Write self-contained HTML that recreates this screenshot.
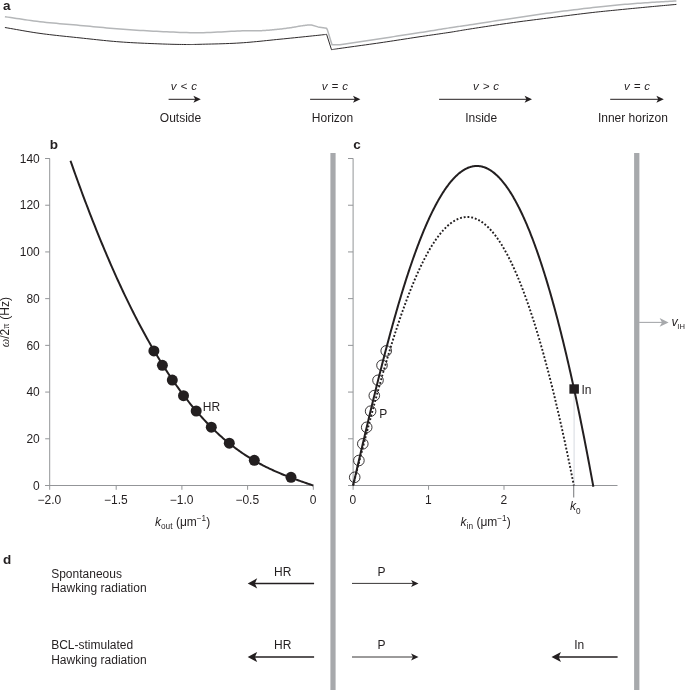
<!DOCTYPE html>
<html><head><meta charset="utf-8"><title>Figure</title>
<style>
html,body{margin:0;padding:0;background:#fff;}
svg{display:block;}
text{font-family:"Liberation Sans",sans-serif;fill:#231f20;}
.t{font-size:12px;}
.tk{font-size:12px;}
.i{font-style:italic;}
.pl{font-size:13.5px;font-weight:bold;}
.sub{font-size:8.3px;}
</style></head><body>
<svg width="685" height="690" viewBox="0 0 685 690">
<rect width="685" height="690" fill="#fff"/>
<defs>
<path id="ahS" d="M0,0 L-7.4,-3.5 L-5.6,0 L-7.4,3.5 Z"/>
<path id="ahB" d="M0,0 L-9.5,-5.1 L-7.2,0 L-9.5,5.1 Z"/>
</defs>

<path d="M4.90,16.70 L7.81,17.12 L10.69,17.55 L13.56,17.98 L16.42,18.41 L19.28,18.85 L22.14,19.28 L25.03,19.71 L27.94,20.13 L30.88,20.54 L33.87,20.94 L36.90,21.33 L40.00,21.70 L43.16,22.05 L46.38,22.39 L49.66,22.72 L52.97,23.03 L56.32,23.34 L59.69,23.64 L63.09,23.93 L66.49,24.22 L69.89,24.51 L73.28,24.80 L76.65,25.10 L80.00,25.40 L83.33,25.71 L86.67,26.02 L90.00,26.33 L93.33,26.65 L96.67,26.96 L100.00,27.27 L103.33,27.58 L106.67,27.89 L110.00,28.18 L113.33,28.46 L116.67,28.74 L120.00,29.00 L123.33,29.25 L126.67,29.49 L130.00,29.73 L133.33,29.96 L136.67,30.18 L140.00,30.40 L143.33,30.60 L146.67,30.80 L150.00,30.99 L153.33,31.17 L156.67,31.34 L160.00,31.50 L163.33,31.66 L166.67,31.82 L170.00,31.97 L173.33,32.12 L176.67,32.27 L180.00,32.40 L183.33,32.51 L186.67,32.61 L190.00,32.68 L193.33,32.74 L196.67,32.76 L200.00,32.75 L203.40,32.70 L206.90,32.60 L210.47,32.47 L214.07,32.30 L217.68,32.12 L221.25,31.92 L224.75,31.71 L228.15,31.51 L231.41,31.32 L234.49,31.15 L237.37,31.01 L240.00,30.90 L242.38,30.83 L244.55,30.78 L246.52,30.76 L248.33,30.74 L250.00,30.75 L251.56,30.75 L253.03,30.76 L254.44,30.77 L255.82,30.77 L257.19,30.77 L258.57,30.74 L260.00,30.70 L261.43,30.64 L262.79,30.58 L264.10,30.50 L265.37,30.43 L266.60,30.34 L267.81,30.25 L269.00,30.15 L270.19,30.05 L271.37,29.95 L272.56,29.83 L273.77,29.72 L275.00,29.60 L276.27,29.47 L277.56,29.34 L278.87,29.20 L280.19,29.05 L281.50,28.89 L282.81,28.74 L284.10,28.58 L285.37,28.42 L286.60,28.26 L287.79,28.10 L288.93,27.95 L290.00,27.80 L291.01,27.65 L291.98,27.50 L292.90,27.36 L293.78,27.21 L294.62,27.06 L295.44,26.91 L296.23,26.76 L297.00,26.62 L297.76,26.48 L298.51,26.35 L299.25,26.22 L300.00,26.10 L300.74,25.98 L301.45,25.88 L302.14,25.77 L302.81,25.68 L303.48,25.58 L304.12,25.49 L304.77,25.40 L305.41,25.31 L306.05,25.22 L306.69,25.14 L307.34,25.04 L308.00,24.95 L311.5,25.0 L318,26.9 L326.6,28.3 L327.4,29.9 L332,44.8 L340,44.8 L340.00,44.80 L343.33,44.29 L346.67,43.78 L350.00,43.27 L353.33,42.77 L356.67,42.26 L360.00,41.75 L363.33,41.24 L366.67,40.73 L370.00,40.22 L373.33,39.72 L376.67,39.21 L380.00,38.70 L383.37,38.19 L386.78,37.67 L390.23,37.14 L393.70,36.62 L397.17,36.09 L400.62,35.57 L404.04,35.05 L407.41,34.54 L410.70,34.03 L413.91,33.54 L417.02,33.06 L420.00,32.60 L422.88,32.15 L425.69,31.70 L428.44,31.27 L431.11,30.84 L433.72,30.42 L436.25,30.01 L438.72,29.61 L441.11,29.22 L443.44,28.84 L445.69,28.48 L447.88,28.13 L450.00,27.80 L451.95,27.50 L453.68,27.23 L455.23,27.00 L456.67,26.78 L458.03,26.58 L459.38,26.38 L460.76,26.18 L462.22,25.96 L463.83,25.73 L465.62,25.46 L467.66,25.15 L470.00,24.80 L472.63,24.40 L475.51,23.96 L478.59,23.49 L481.85,22.99 L485.25,22.46 L488.75,21.93 L492.32,21.38 L495.93,20.83 L499.53,20.28 L503.10,19.74 L506.60,19.21 L510.00,18.70 L513.33,18.20 L516.67,17.71 L520.00,17.21 L523.33,16.71 L526.67,16.22 L530.00,15.73 L533.33,15.24 L536.67,14.76 L540.00,14.29 L543.33,13.82 L546.67,13.35 L550.00,12.90 L553.37,12.45 L556.78,12.00 L560.23,11.55 L563.70,11.10 L567.17,10.66 L570.62,10.23 L574.04,9.81 L577.41,9.40 L580.70,9.00 L583.91,8.61 L587.02,8.25 L590.00,7.90 L592.85,7.57 L595.58,7.26 L598.20,6.97 L600.74,6.70 L603.21,6.43 L605.62,6.18 L608.01,5.94 L610.37,5.70 L612.73,5.47 L615.12,5.25 L617.53,5.02 L620.00,4.80 L622.51,4.58 L625.04,4.36 L627.58,4.15 L630.13,3.95 L632.68,3.75 L635.23,3.56 L637.76,3.37 L640.27,3.19 L642.75,3.01 L645.21,2.83 L647.63,2.66 L650.00,2.50 L652.33,2.34 L654.61,2.19 L656.85,2.05 L659.07,1.91 L661.26,1.78 L663.43,1.66 L665.58,1.53 L667.73,1.41 L669.88,1.28 L672.04,1.16 L674.21,1.03 L676.40,0.90" fill="none" stroke="#b5b7b9" stroke-width="1.5" stroke-linejoin="round"/>
<path d="M4.90,27.50 L7.81,28.00 L10.69,28.50 L13.56,29.01 L16.42,29.52 L19.28,30.03 L22.14,30.54 L25.03,31.04 L27.94,31.54 L30.88,32.02 L33.87,32.50 L36.90,32.96 L40.00,33.40 L43.16,33.83 L46.38,34.24 L49.66,34.64 L52.97,35.02 L56.32,35.40 L59.69,35.77 L63.09,36.13 L66.49,36.49 L69.89,36.84 L73.28,37.20 L76.65,37.55 L80.00,37.90 L83.33,38.26 L86.67,38.62 L90.00,38.98 L93.33,39.34 L96.67,39.70 L100.00,40.06 L103.33,40.40 L106.67,40.73 L110.00,41.05 L113.33,41.35 L116.67,41.64 L120.00,41.90 L123.38,42.14 L126.84,42.37 L130.35,42.57 L133.89,42.77 L137.43,42.95 L140.94,43.11 L144.40,43.27 L147.78,43.41 L151.05,43.55 L154.20,43.67 L157.19,43.79 L160.00,43.90 L162.64,44.00 L165.15,44.09 L167.54,44.17 L169.81,44.23 L171.99,44.29 L174.06,44.34 L176.05,44.38 L177.96,44.41 L179.80,44.44 L181.59,44.46 L183.31,44.48 L185.00,44.50 L186.52,44.52 L187.79,44.53 L188.87,44.53 L189.81,44.54 L190.69,44.53 L191.56,44.52 L192.48,44.51 L193.52,44.48 L194.73,44.45 L196.17,44.41 L197.91,44.36 L200.00,44.30 L202.46,44.24 L205.22,44.17 L208.24,44.10 L211.48,44.02 L214.89,43.94 L218.44,43.85 L222.07,43.74 L225.74,43.62 L229.41,43.48 L233.04,43.33 L236.59,43.15 L240.00,42.95 L243.33,42.72 L246.67,42.47 L250.00,42.19 L253.33,41.89 L256.67,41.58 L260.00,41.25 L263.33,40.91 L266.67,40.56 L270.00,40.22 L273.33,39.87 L276.67,39.53 L280.00,39.20 L283.44,38.86 L287.05,38.50 L290.78,38.12 L294.57,37.74 L298.36,37.35 L302.09,36.97 L305.70,36.59 L309.14,36.24 L312.35,35.90 L315.27,35.60 L317.84,35.33 L320.00,35.10 L321.72,34.92 L323.03,34.78 L324.00,34.67 L324.67,34.59 L325.12,34.53 L325.39,34.49 L325.54,34.47 L325.64,34.44 L325.73,34.42 L325.89,34.40 L326.16,34.36 L326.60,34.30 L331.5,49.7 L331.50,49.70 L332.11,49.61 L332.55,49.53 L332.89,49.48 L333.17,49.43 L333.45,49.38 L333.78,49.32 L334.23,49.25 L334.83,49.15 L335.66,49.03 L336.76,48.87 L338.19,48.66 L340.00,48.40 L342.23,48.09 L344.84,47.72 L347.79,47.31 L351.00,46.87 L354.43,46.40 L358.03,45.90 L361.74,45.39 L365.50,44.86 L369.26,44.34 L372.97,43.81 L376.57,43.30 L380.00,42.80 L383.37,42.30 L386.78,41.79 L390.23,41.27 L393.70,40.74 L397.17,40.21 L400.62,39.67 L404.04,39.15 L407.41,38.63 L410.70,38.12 L413.91,37.62 L417.02,37.15 L420.00,36.70 L422.88,36.27 L425.69,35.86 L428.44,35.45 L431.11,35.07 L433.72,34.69 L436.25,34.32 L438.72,33.97 L441.11,33.62 L443.44,33.28 L445.69,32.95 L447.88,32.62 L450.00,32.30 L451.95,32.00 L453.68,31.72 L455.23,31.46 L456.67,31.22 L458.03,30.98 L459.38,30.75 L460.76,30.51 L462.22,30.26 L463.83,29.99 L465.62,29.69 L467.66,29.37 L470.00,29.00 L472.63,28.59 L475.51,28.15 L478.59,27.67 L481.85,27.17 L485.25,26.65 L488.75,26.12 L492.32,25.58 L495.93,25.04 L499.53,24.51 L503.10,23.98 L506.60,23.48 L510.00,23.00 L513.33,22.54 L516.67,22.08 L520.00,21.64 L523.33,21.20 L526.67,20.77 L530.00,20.34 L533.33,19.91 L536.67,19.49 L540.00,19.07 L543.33,18.65 L546.67,18.22 L550.00,17.80 L553.37,17.37 L556.78,16.93 L560.23,16.49 L563.70,16.05 L567.17,15.61 L570.62,15.17 L574.04,14.74 L577.41,14.32 L580.70,13.91 L583.91,13.52 L587.02,13.15 L590.00,12.80 L592.85,12.47 L595.58,12.17 L598.20,11.89 L600.74,11.62 L603.21,11.36 L605.62,11.12 L608.01,10.88 L610.37,10.65 L612.73,10.42 L615.12,10.18 L617.53,9.95 L620.00,9.70 L622.51,9.45 L625.04,9.20 L627.58,8.95 L630.13,8.70 L632.68,8.45 L635.23,8.21 L637.76,7.96 L640.27,7.72 L642.75,7.49 L645.21,7.25 L647.63,7.02 L650.00,6.80 L652.33,6.58 L654.61,6.37 L656.85,6.16 L659.07,5.96 L661.26,5.76 L663.43,5.57 L665.58,5.37 L667.73,5.18 L669.88,4.99 L672.04,4.79 L674.21,4.60 L676.40,4.40" fill="none" stroke="#231f20" stroke-width="0.95" stroke-linejoin="miter"/>
<text class="pl" x="3" y="10.2">a</text>
<line x1="168.6" y1="99.3" x2="197.8" y2="99.3" stroke="#231f20" stroke-width="1.0"/>
<use href="#ahS" transform="translate(200.8,99.3)" fill="#231f20"/>
<text class="t i" x="183.8" y="89.8" text-anchor="middle" word-spacing="0.8" style="font-size:11.5px">v &lt; c</text>
<text class="t" x="180.5" y="121.6" text-anchor="middle">Outside</text>
<line x1="310.1" y1="99.3" x2="357.4" y2="99.3" stroke="#231f20" stroke-width="1.0"/>
<use href="#ahS" transform="translate(360.4,99.3)" fill="#231f20"/>
<text class="t i" x="334.9" y="89.8" text-anchor="middle" word-spacing="0.8" style="font-size:11.5px">v = c</text>
<text class="t" x="332.5" y="121.6" text-anchor="middle">Horizon</text>
<line x1="439.1" y1="99.3" x2="529" y2="99.3" stroke="#231f20" stroke-width="1.0"/>
<use href="#ahS" transform="translate(532,99.3)" fill="#231f20"/>
<text class="t i" x="486" y="89.8" text-anchor="middle" word-spacing="0.8" style="font-size:11.5px">v &gt; c</text>
<text class="t" x="481.2" y="121.6" text-anchor="middle">Inside</text>
<line x1="610.2" y1="99.3" x2="660.8" y2="99.3" stroke="#231f20" stroke-width="1.0"/>
<use href="#ahS" transform="translate(663.8,99.3)" fill="#231f20"/>
<text class="t i" x="637" y="89.8" text-anchor="middle" word-spacing="0.8" style="font-size:11.5px">v = c</text>
<text class="t" x="632.9" y="121.6" text-anchor="middle">Inner horizon</text>
<rect x="330.4" y="153" width="5.2" height="537" fill="#a7a9ac"/>
<rect x="634.1" y="153" width="5.3" height="537" fill="#a7a9ac"/>
<line x1="639" y1="322.4" x2="664" y2="322.4" stroke="#a7a9ac" stroke-width="1.1"/>
<path d="M668.6,322.4 L659.6,318 L662,322.4 L659.6,326.8 Z" fill="#a7a9ac"/>
<text class="t i" x="671.6" y="325.7" style="font-size:12.5px">v<tspan class="sub" font-style="normal" dy="3.4" dx="-0.5" style="font-size:7.6px">IH</tspan></text>
<path d="M45.2,158.5 H49.7 V485.5 M45.2,485.5 H313.3" fill="none" stroke="#939598" stroke-width="1"/>
<line x1="45.2" x2="49.7" y1="485.50" y2="485.50" stroke="#939598" stroke-width="1"/>
<text class="tk" x="39.8" y="489.70" text-anchor="end">0</text>
<line x1="45.2" x2="49.7" y1="438.79" y2="438.79" stroke="#939598" stroke-width="1"/>
<text class="tk" x="39.8" y="442.99" text-anchor="end">20</text>
<line x1="45.2" x2="49.7" y1="392.07" y2="392.07" stroke="#939598" stroke-width="1"/>
<text class="tk" x="39.8" y="396.27" text-anchor="end">40</text>
<line x1="45.2" x2="49.7" y1="345.36" y2="345.36" stroke="#939598" stroke-width="1"/>
<text class="tk" x="39.8" y="349.56" text-anchor="end">60</text>
<line x1="45.2" x2="49.7" y1="298.64" y2="298.64" stroke="#939598" stroke-width="1"/>
<text class="tk" x="39.8" y="302.84" text-anchor="end">80</text>
<line x1="45.2" x2="49.7" y1="251.93" y2="251.93" stroke="#939598" stroke-width="1"/>
<text class="tk" x="39.8" y="256.13" text-anchor="end">100</text>
<line x1="45.2" x2="49.7" y1="205.22" y2="205.22" stroke="#939598" stroke-width="1"/>
<text class="tk" x="39.8" y="209.42" text-anchor="end">120</text>
<line x1="45.2" x2="49.7" y1="158.50" y2="158.50" stroke="#939598" stroke-width="1"/>
<text class="tk" x="39.8" y="162.70" text-anchor="end">140</text>
<line x1="49.70" x2="49.70" y1="485.5" y2="489.8" stroke="#939598" stroke-width="1"/>
<text class="tk" x="49.40" y="504.4" text-anchor="middle">−2.0</text>
<line x1="116.20" x2="116.20" y1="485.5" y2="489.8" stroke="#939598" stroke-width="1"/>
<text class="tk" x="115.90" y="504.4" text-anchor="middle">−1.5</text>
<line x1="181.90" x2="181.90" y1="485.5" y2="489.8" stroke="#939598" stroke-width="1"/>
<text class="tk" x="181.60" y="504.4" text-anchor="middle">−1.0</text>
<line x1="247.60" x2="247.60" y1="485.5" y2="489.8" stroke="#939598" stroke-width="1"/>
<text class="tk" x="247.30" y="504.4" text-anchor="middle">−0.5</text>
<line x1="313.30" x2="313.30" y1="485.5" y2="489.8" stroke="#939598" stroke-width="1"/>
<text class="tk" x="313.00" y="504.4" text-anchor="middle">0</text>
<text class="pl" x="49.8" y="149">b</text>
<path d="M70.47,160.72 L71.69,164.19 L72.91,167.65 L74.13,171.08 L75.35,174.49 L76.57,177.89 L77.79,181.26 L79.01,184.61 L80.23,187.93 L81.45,191.24 L82.68,194.53 L83.90,197.79 L85.12,201.04 L86.34,204.26 L87.56,207.46 L88.78,210.64 L90.00,213.80 L91.22,216.94 L92.44,220.06 L93.66,223.16 L94.88,226.23 L96.10,229.29 L97.32,232.32 L98.54,235.34 L99.76,238.33 L100.98,241.30 L102.20,244.25 L103.42,247.18 L104.64,250.09 L105.86,252.98 L107.08,255.85 L108.30,258.69 L109.52,261.52 L110.74,264.32 L111.96,267.11 L113.18,269.87 L114.40,272.62 L115.62,275.34 L116.84,278.04 L118.06,280.72 L119.28,283.38 L120.50,286.02 L121.72,288.64 L122.94,291.24 L124.16,293.82 L125.38,296.38 L126.60,298.92 L127.82,301.43 L129.04,303.93 L130.26,306.41 L131.48,308.86 L132.70,311.30 L133.93,313.71 L135.15,316.11 L136.37,318.48 L137.59,320.84 L138.81,323.17 L140.03,325.49 L141.25,327.78 L142.47,330.06 L143.69,332.31 L144.91,334.55 L146.13,336.76 L147.35,338.95 L148.57,341.13 L149.79,343.28 L151.01,345.42 L152.23,347.53 L153.45,349.63 L154.67,351.70 L155.89,353.76 L157.11,355.80 L158.33,357.81 L159.55,359.81 L160.77,361.79 L161.99,363.75 L163.21,365.68 L164.43,367.60 L165.65,369.50 L166.87,371.38 L168.09,373.25 L169.31,375.09 L170.53,376.91 L171.75,378.71 L172.97,380.50 L174.19,382.27 L175.41,384.01 L176.63,385.74 L177.85,387.45 L179.07,389.14 L180.29,390.81 L181.51,392.47 L182.73,394.10 L183.95,395.72 L185.18,397.32 L186.40,398.90 L187.62,400.46 L188.84,402.00 L190.06,403.52 L191.28,405.03 L192.50,406.52 L193.72,407.99 L194.94,409.44 L196.16,410.88 L197.38,412.30 L198.60,413.70 L199.82,415.08 L201.04,416.44 L202.26,417.79 L203.48,419.12 L204.70,420.44 L205.92,421.73 L207.14,423.01 L208.36,424.27 L209.58,425.52 L210.80,426.75 L212.02,427.96 L213.24,429.15 L214.46,430.33 L215.68,431.50 L216.90,432.64 L218.12,433.77 L219.34,434.89 L220.56,435.99 L221.78,437.07 L223.00,438.14 L224.22,439.19 L225.44,440.22 L226.66,441.25 L227.88,442.25 L229.10,443.24 L230.32,444.22 L231.54,445.18 L232.76,446.13 L233.98,447.06 L235.20,447.98 L236.43,448.88 L237.65,449.77 L238.87,450.65 L240.09,451.51 L241.31,452.36 L242.53,453.20 L243.75,454.02 L244.97,454.83 L246.19,455.63 L247.41,456.41 L248.63,457.18 L249.85,457.94 L251.07,458.69 L252.29,459.42 L253.51,460.15 L254.73,460.86 L255.95,461.56 L257.17,462.25 L258.39,462.92 L259.61,463.59 L260.83,464.25 L262.05,464.89 L263.27,465.53 L264.49,466.15 L265.71,466.77 L266.93,467.37 L268.15,467.97 L269.37,468.55 L270.59,469.13 L271.81,469.70 L273.03,470.26 L274.25,470.81 L275.47,471.36 L276.69,471.89 L277.91,472.42 L279.13,472.94 L280.35,473.45 L281.57,473.96 L282.79,474.46 L284.01,474.95 L285.23,475.44 L286.45,475.92 L287.68,476.40 L288.90,476.87 L290.12,477.33 L291.34,477.79 L292.56,478.25 L293.78,478.70 L295.00,479.14 L296.22,479.58 L297.44,480.02 L298.66,480.46 L299.88,480.89 L301.10,481.32 L302.32,481.74 L303.54,482.17 L304.76,482.59 L305.98,483.01 L307.20,483.43 L308.42,483.84 L309.64,484.26 L310.86,484.67 L312.08,485.09 L313.30,485.50" fill="none" stroke="#231f20" stroke-width="2"/>
<circle cx="153.9" cy="350.9" r="5.5" fill="#231f20"/>
<circle cx="162.4" cy="365.3" r="5.5" fill="#231f20"/>
<circle cx="172.3" cy="380.1" r="5.5" fill="#231f20"/>
<circle cx="183.5" cy="395.7" r="5.5" fill="#231f20"/>
<circle cx="196.2" cy="411" r="5.5" fill="#231f20"/>
<circle cx="211.3" cy="427.2" r="5.5" fill="#231f20"/>
<circle cx="229.3" cy="443.2" r="5.5" fill="#231f20"/>
<circle cx="254.3" cy="460.3" r="5.5" fill="#231f20"/>
<circle cx="291" cy="477.3" r="5.5" fill="#231f20"/>
<text class="t" x="202.8" y="410.8">HR</text>
<text class="t" transform="translate(9.1,347.3) rotate(-90)" text-anchor="start"><tspan font-family="Liberation Serif,serif" font-style="italic" style="font-size:12px">ω</tspan>/2<tspan font-family="Liberation Serif,serif" style="font-size:9.5px" dx="0.3">π</tspan><tspan dx="0.6"> (Hz)</tspan></text>
<text class="t" x="155" y="525.9"><tspan class="i">k</tspan><tspan class="sub" dy="2.6">out</tspan><tspan dy="-2.6"> (μm</tspan><tspan class="sub" dy="-5.4" style="font-size:8.2px">−1</tspan><tspan dy="5.4">)</tspan></text>
<path d="M348,158.5 H353.1 V485.5 H617.5" fill="none" stroke="#939598" stroke-width="1"/>
<line x1="348" x2="353.1" y1="485.50" y2="485.50" stroke="#939598" stroke-width="1"/>
<line x1="348" x2="353.1" y1="438.79" y2="438.79" stroke="#939598" stroke-width="1"/>
<line x1="348" x2="353.1" y1="392.07" y2="392.07" stroke="#939598" stroke-width="1"/>
<line x1="348" x2="353.1" y1="345.36" y2="345.36" stroke="#939598" stroke-width="1"/>
<line x1="348" x2="353.1" y1="298.64" y2="298.64" stroke="#939598" stroke-width="1"/>
<line x1="348" x2="353.1" y1="251.93" y2="251.93" stroke="#939598" stroke-width="1"/>
<line x1="348" x2="353.1" y1="205.22" y2="205.22" stroke="#939598" stroke-width="1"/>
<line x1="348" x2="353.1" y1="158.50" y2="158.50" stroke="#939598" stroke-width="1"/>
<line x1="353.10" x2="353.10" y1="485.5" y2="489.8" stroke="#939598" stroke-width="1"/>
<text class="tk" x="352.90" y="504.2" text-anchor="middle">0</text>
<line x1="428.55" x2="428.55" y1="485.5" y2="489.8" stroke="#939598" stroke-width="1"/>
<text class="tk" x="428.35" y="504.2" text-anchor="middle">1</text>
<line x1="504.00" x2="504.00" y1="485.5" y2="489.8" stroke="#939598" stroke-width="1"/>
<text class="tk" x="503.80" y="504.2" text-anchor="middle">2</text>
<line x1="573.7" x2="573.7" y1="485.5" y2="497.6" stroke="#808285" stroke-width="1.1"/>
<line x1="574.1" x2="574.1" y1="392" y2="485" stroke="#d3d6de" stroke-width="0.9"/>
<text class="pl" x="353.3" y="149.3">c</text>
<text class="t" x="570" y="510.4"><tspan class="i">k</tspan><tspan class="sub" dy="3.5" style="font-size:8.2px">0</tspan></text>
<text class="t" x="460.6" y="525.9"><tspan class="i">k</tspan><tspan class="sub" dy="2.6">in</tspan><tspan dy="-2.6"> (μm</tspan><tspan class="sub" dy="-5.4" style="font-size:8.2px">−1</tspan><tspan dy="5.4">)</tspan></text>
<path d="M353.10,485.50 L353.70,482.90 L354.30,480.30 L354.91,477.71 L355.51,475.11 L356.11,472.51 L356.71,469.92 L357.31,467.32 L357.92,464.73 L358.52,462.14 L359.12,459.55 L359.72,456.97 L360.33,454.38 L360.93,451.80 L361.53,449.23 L362.13,446.65 L362.73,444.08 L363.34,441.51 L363.94,438.95 L364.54,436.39 L365.14,433.83 L365.74,431.28 L366.35,428.73 L366.95,426.19 L367.55,423.65 L368.15,421.12 L368.76,418.60 L369.36,416.07 L369.96,413.56 L370.56,411.05 L371.16,408.55 L371.77,406.05 L372.37,403.56 L372.97,401.08 L373.57,398.60 L374.17,396.13 L374.78,393.67 L375.38,391.22 L375.98,388.77 L376.58,386.33 L377.19,383.90 L377.79,381.48 L378.39,379.07 L378.99,376.66 L379.59,374.27 L380.20,371.88 L380.80,369.50 L381.40,367.13 L382.00,364.77 L382.60,362.42 L383.21,360.08 L383.81,357.75 L384.41,355.43 L385.01,353.12 L385.62,350.82 L386.22,348.53 L386.82,346.25 L387.42,343.98 L388.02,341.72 L388.63,339.47 L389.23,337.24 L389.83,335.01 L390.43,332.80 L391.03,330.59 L391.64,328.40 L392.24,326.22 L392.84,324.06 L393.44,321.90 L394.05,319.76 L394.65,317.63 L395.25,315.51 L395.85,313.40 L396.45,311.30 L397.06,309.22 L397.66,307.15 L398.26,305.09 L398.86,303.05 L399.46,301.02 L400.07,299.00 L400.67,297.00 L401.27,295.00 L401.87,293.02 L402.48,291.06 L403.08,289.11 L403.68,287.17 L404.28,285.24 L404.88,283.33 L405.49,281.43 L406.09,279.55 L406.69,277.68 L407.29,275.82 L407.89,273.98 L408.50,272.15 L409.10,270.34 L409.70,268.54 L410.30,266.75 L410.91,264.98 L411.51,263.22 L412.11,261.48 L412.71,259.75 L413.31,258.04 L413.92,256.34 L414.52,254.65 L415.12,252.98 L415.72,251.33 L416.32,249.69 L416.93,248.06 L417.53,246.45 L418.13,244.86 L418.73,243.28 L419.33,241.71 L419.94,240.16 L420.54,238.63 L421.14,237.11 L421.74,235.60 L422.35,234.11 L422.95,232.64 L423.55,231.18 L424.15,229.74 L424.75,228.31 L425.36,226.90 L425.96,225.50 L426.56,224.12 L427.16,222.75 L427.76,221.40 L428.37,220.07 L428.97,218.75 L429.57,217.45 L430.17,216.16 L430.78,214.89 L431.38,213.63 L431.98,212.39 L432.58,211.17 L433.18,209.96 L433.79,208.77 L434.39,207.59 L434.99,206.43 L435.59,205.29 L436.19,204.16 L436.80,203.04 L437.40,201.95 L438.00,200.87 L438.60,199.80 L439.21,198.76 L439.81,197.72 L440.41,196.71 L441.01,195.71 L441.61,194.73 L442.22,193.76 L442.82,192.81 L443.42,191.87 L444.02,190.96 L444.62,190.05 L445.23,189.17 L445.83,188.30 L446.43,187.45 L447.03,186.61 L447.64,185.79 L448.24,184.99 L448.84,184.20 L449.44,183.43 L450.04,182.68 L450.65,181.94 L451.25,181.22 L451.85,180.51 L452.45,179.82 L453.05,179.15 L453.66,178.50 L454.26,177.86 L454.86,177.24 L455.46,176.63 L456.07,176.04 L456.67,175.47 L457.27,174.92 L457.87,174.38 L458.47,173.86 L459.08,173.35 L459.68,172.86 L460.28,172.39 L460.88,171.93 L461.48,171.50 L462.09,171.07 L462.69,170.67 L463.29,170.28 L463.89,169.91 L464.50,169.55 L465.10,169.22 L465.70,168.89 L466.30,168.59 L466.90,168.30 L467.51,168.03 L468.11,167.78 L468.71,167.54 L469.31,167.32 L469.91,167.12 L470.52,166.93 L471.12,166.76 L471.72,166.61 L472.32,166.47 L472.93,166.35 L473.53,166.25 L474.13,166.16 L474.73,166.10 L475.33,166.04 L475.94,166.01 L476.54,165.99 L477.14,165.99 L477.74,166.01 L478.34,166.04 L478.95,166.09 L479.55,166.16 L480.15,166.24 L480.75,166.34 L481.35,166.46 L481.96,166.59 L482.56,166.75 L483.16,166.91 L483.76,167.10 L484.37,167.30 L484.97,167.52 L485.57,167.76 L486.17,168.01 L486.77,168.28 L487.38,168.57 L487.98,168.88 L488.58,169.20 L489.18,169.54 L489.78,169.89 L490.39,170.27 L490.99,170.66 L491.59,171.06 L492.19,171.49 L492.80,171.93 L493.40,172.39 L494.00,172.86 L494.60,173.36 L495.20,173.86 L495.81,174.39 L496.41,174.94 L497.01,175.50 L497.61,176.07 L498.21,176.67 L498.82,177.28 L499.42,177.91 L500.02,178.56 L500.62,179.22 L501.23,179.90 L501.83,180.60 L502.43,181.31 L503.03,182.04 L503.63,182.79 L504.24,183.56 L504.84,184.34 L505.44,185.14 L506.04,185.96 L506.64,186.79 L507.25,187.65 L507.85,188.52 L508.45,189.40 L509.05,190.30 L509.66,191.22 L510.26,192.16 L510.86,193.12 L511.46,194.09 L512.06,195.08 L512.67,196.08 L513.27,197.11 L513.87,198.15 L514.47,199.21 L515.07,200.28 L515.68,201.37 L516.28,202.48 L516.88,203.61 L517.48,204.75 L518.09,205.91 L518.69,207.09 L519.29,208.28 L519.89,209.50 L520.49,210.73 L521.10,211.97 L521.70,213.24 L522.30,214.52 L522.90,215.82 L523.50,217.13 L524.11,218.46 L524.71,219.81 L525.31,221.18 L525.91,222.56 L526.52,223.97 L527.12,225.39 L527.72,226.82 L528.32,228.27 L528.92,229.74 L529.53,231.23 L530.13,232.74 L530.73,234.26 L531.33,235.80 L531.93,237.35 L532.54,238.93 L533.14,240.52 L533.74,242.13 L534.34,243.75 L534.95,245.39 L535.55,247.05 L536.15,248.73 L536.75,250.42 L537.35,252.14 L537.96,253.86 L538.56,255.61 L539.16,257.37 L539.76,259.15 L540.36,260.95 L540.97,262.77 L541.57,264.60 L542.17,266.45 L542.77,268.31 L543.37,270.20 L543.98,272.10 L544.58,274.02 L545.18,275.95 L545.78,277.91 L546.39,279.88 L546.99,281.86 L547.59,283.87 L548.19,285.89 L548.79,287.93 L549.40,289.98 L550.00,292.06 L550.60,294.15 L551.20,296.26 L551.80,298.38 L552.41,300.53 L553.01,302.69 L553.61,304.86 L554.21,307.06 L554.82,309.27 L555.42,311.50 L556.02,313.74 L556.62,316.01 L557.22,318.29 L557.83,320.59 L558.43,322.90 L559.03,325.23 L559.63,327.58 L560.23,329.95 L560.84,332.33 L561.44,334.74 L562.04,337.15 L562.64,339.59 L563.25,342.04 L563.85,344.51 L564.45,347.00 L565.05,349.51 L565.65,352.03 L566.26,354.57 L566.86,357.13 L567.46,359.70 L568.06,362.29 L568.66,364.90 L569.27,367.53 L569.87,370.17 L570.47,372.83 L571.07,375.51 L571.68,378.21 L572.28,380.92 L572.88,383.65 L573.48,386.39 L574.08,389.16 L574.69,391.94 L575.29,394.74 L575.89,397.56 L576.49,400.39 L577.09,403.24 L577.70,406.11 L578.30,408.99 L578.90,411.90 L579.50,414.82 L580.11,417.75 L580.71,420.71 L581.31,423.68 L581.91,426.67 L582.51,429.68 L583.12,432.70 L583.72,435.74 L584.32,438.80 L584.92,441.87 L585.52,444.97 L586.13,448.08 L586.73,451.21 L587.33,454.35 L587.93,457.51 L588.54,460.69 L589.14,463.89 L589.74,467.10 L590.34,470.33 L590.94,473.58 L591.55,476.85 L592.15,480.13 L592.75,483.43 L593.35,486.75" fill="none" stroke="#231f20" stroke-width="2"/>
<path d="M353.10,485.50 L353.65,483.33 L354.21,481.17 L354.76,479.01 L355.31,476.84 L355.87,474.68 L356.42,472.52 L356.97,470.35 L357.53,468.19 L358.08,466.03 L358.63,463.88 L359.19,461.72 L359.74,459.57 L360.29,457.42 L360.85,455.27 L361.40,453.12 L361.95,450.98 L362.51,448.84 L363.06,446.70 L363.61,444.57 L364.16,442.44 L364.72,440.31 L365.27,438.18 L365.82,436.06 L366.38,433.95 L366.93,431.84 L367.48,429.73 L368.04,427.63 L368.59,425.53 L369.14,423.43 L369.70,421.35 L370.25,419.26 L370.80,417.18 L371.36,415.11 L371.91,413.04 L372.46,410.98 L373.02,408.93 L373.57,406.88 L374.12,404.84 L374.68,402.80 L375.23,400.77 L375.78,398.75 L376.34,396.73 L376.89,394.72 L377.44,392.72 L378.00,390.72 L378.55,388.74 L379.10,386.75 L379.66,384.78 L380.21,382.82 L380.76,380.86 L381.32,378.91 L381.87,376.97 L382.42,375.04 L382.98,373.11 L383.53,371.19 L384.08,369.29 L384.63,367.39 L385.19,365.50 L385.74,363.61 L386.29,361.74 L386.85,359.88 L387.40,358.02 L387.95,356.18 L388.51,354.34 L389.06,352.52 L389.61,350.70 L390.17,348.89 L390.72,347.10 L391.27,345.31 L391.83,343.53 L392.38,341.77 L392.93,340.01 L393.49,338.26 L394.04,336.53 L394.59,334.80 L395.15,333.08 L395.70,331.38 L396.25,329.68 L396.81,328.00 L397.36,326.33 L397.91,324.67 L398.47,323.02 L399.02,321.38 L399.57,319.75 L400.13,318.13 L400.68,316.52 L401.23,314.93 L401.79,313.34 L402.34,311.77 L402.89,310.21 L403.45,308.66 L404.00,307.12 L404.55,305.60 L405.10,304.08 L405.66,302.58 L406.21,301.09 L406.76,299.61 L407.32,298.14 L407.87,296.69 L408.42,295.24 L408.98,293.81 L409.53,292.39 L410.08,290.99 L410.64,289.59 L411.19,288.21 L411.74,286.84 L412.30,285.48 L412.85,284.14 L413.40,282.80 L413.96,281.48 L414.51,280.18 L415.06,278.88 L415.62,277.60 L416.17,276.33 L416.72,275.07 L417.28,273.83 L417.83,272.59 L418.38,271.38 L418.94,270.17 L419.49,268.98 L420.04,267.80 L420.60,266.63 L421.15,265.47 L421.70,264.33 L422.26,263.20 L422.81,262.09 L423.36,260.99 L423.92,259.90 L424.47,258.82 L425.02,257.76 L425.58,256.71 L426.13,255.67 L426.68,254.65 L427.23,253.64 L427.79,252.64 L428.34,251.66 L428.89,250.69 L429.45,249.73 L430.00,248.79 L430.55,247.86 L431.11,246.95 L431.66,246.04 L432.21,245.15 L432.77,244.28 L433.32,243.42 L433.87,242.57 L434.43,241.73 L434.98,240.91 L435.53,240.10 L436.09,239.31 L436.64,238.53 L437.19,237.76 L437.75,237.01 L438.30,236.27 L438.85,235.54 L439.41,234.83 L439.96,234.13 L440.51,233.45 L441.07,232.78 L441.62,232.12 L442.17,231.47 L442.73,230.85 L443.28,230.23 L443.83,229.63 L444.39,229.04 L444.94,228.47 L445.49,227.91 L446.05,227.36 L446.60,226.83 L447.15,226.31 L447.70,225.80 L448.26,225.31 L448.81,224.84 L449.36,224.37 L449.92,223.92 L450.47,223.49 L451.02,223.07 L451.58,222.66 L452.13,222.27 L452.68,221.89 L453.24,221.53 L453.79,221.18 L454.34,220.84 L454.90,220.52 L455.45,220.21 L456.00,219.91 L456.56,219.63 L457.11,219.37 L457.66,219.12 L458.22,218.88 L458.77,218.65 L459.32,218.44 L459.88,218.25 L460.43,218.07 L460.98,217.90 L461.54,217.75 L462.09,217.61 L462.64,217.49 L463.20,217.37 L463.75,217.28 L464.30,217.20 L464.86,217.13 L465.41,217.08 L465.96,217.04 L466.52,217.01 L467.07,217.00 L467.62,217.00 L468.17,217.02 L468.73,217.05 L469.28,217.10 L469.83,217.16 L470.39,217.24 L470.94,217.32 L471.49,217.43 L472.05,217.55 L472.60,217.68 L473.15,217.82 L473.71,217.98 L474.26,218.16 L474.81,218.35 L475.37,218.55 L475.92,218.77 L476.47,219.00 L477.03,219.25 L477.58,219.51 L478.13,219.78 L478.69,220.07 L479.24,220.38 L479.79,220.70 L480.35,221.03 L480.90,221.38 L481.45,221.74 L482.01,222.11 L482.56,222.50 L483.11,222.91 L483.67,223.33 L484.22,223.76 L484.77,224.21 L485.33,224.67 L485.88,225.15 L486.43,225.64 L486.99,226.14 L487.54,226.66 L488.09,227.20 L488.64,227.75 L489.20,228.31 L489.75,228.89 L490.30,229.48 L490.86,230.08 L491.41,230.70 L491.96,231.34 L492.52,231.99 L493.07,232.65 L493.62,233.33 L494.18,234.03 L494.73,234.73 L495.28,235.45 L495.84,236.19 L496.39,236.94 L496.94,237.71 L497.50,238.49 L498.05,239.28 L498.60,240.09 L499.16,240.91 L499.71,241.75 L500.26,242.60 L500.82,243.47 L501.37,244.35 L501.92,245.24 L502.48,246.15 L503.03,247.08 L503.58,248.02 L504.14,248.97 L504.69,249.94 L505.24,250.92 L505.80,251.92 L506.35,252.93 L506.90,253.96 L507.46,255.00 L508.01,256.05 L508.56,257.12 L509.11,258.20 L509.67,259.30 L510.22,260.42 L510.77,261.54 L511.33,262.68 L511.88,263.84 L512.43,265.01 L512.99,266.20 L513.54,267.40 L514.09,268.61 L514.65,269.84 L515.20,271.09 L515.75,272.34 L516.31,273.62 L516.86,274.90 L517.41,276.20 L517.97,277.52 L518.52,278.85 L519.07,280.20 L519.63,281.56 L520.18,282.93 L520.73,284.32 L521.29,285.72 L521.84,287.14 L522.39,288.57 L522.95,290.02 L523.50,291.48 L524.05,292.96 L524.61,294.45 L525.16,295.96 L525.71,297.47 L526.27,299.01 L526.82,300.56 L527.37,302.12 L527.93,303.70 L528.48,305.29 L529.03,306.90 L529.58,308.52 L530.14,310.16 L530.69,311.81 L531.24,313.47 L531.80,315.15 L532.35,316.85 L532.90,318.56 L533.46,320.28 L534.01,322.02 L534.56,323.77 L535.12,325.54 L535.67,327.32 L536.22,329.12 L536.78,330.93 L537.33,332.75 L537.88,334.59 L538.44,336.45 L538.99,338.32 L539.54,340.20 L540.10,342.10 L540.65,344.01 L541.20,345.94 L541.76,347.88 L542.31,349.84 L542.86,351.81 L543.42,353.80 L543.97,355.80 L544.52,357.81 L545.08,359.84 L545.63,361.89 L546.18,363.95 L546.74,366.02 L547.29,368.11 L547.84,370.21 L548.40,372.33 L548.95,374.46 L549.50,376.61 L550.05,378.77 L550.61,380.94 L551.16,383.13 L551.71,385.34 L552.27,387.56 L552.82,389.79 L553.37,392.04 L553.93,394.30 L554.48,396.58 L555.03,398.87 L555.59,401.18 L556.14,403.50 L556.69,405.84 L557.25,408.19 L557.80,410.55 L558.35,412.93 L558.91,415.33 L559.46,417.74 L560.01,420.16 L560.57,422.60 L561.12,425.05 L561.67,427.52 L562.23,430.00 L562.78,432.50 L563.33,435.01 L563.89,437.54 L564.44,440.08 L564.99,442.63 L565.55,445.20 L566.10,447.79 L566.65,450.38 L567.21,453.00 L567.76,455.63 L568.31,458.27 L568.87,460.93 L569.42,463.60 L569.97,466.28 L570.53,468.99 L571.08,471.70 L571.63,474.43 L572.18,477.18 L572.74,479.94 L573.29,482.71 L573.84,485.50" fill="none" stroke="#231f20" stroke-width="1.9" stroke-dasharray="1.88 1.88"/>
<circle cx="354.7" cy="477.3" r="5.3" fill="none" stroke="#231f20" stroke-width="0.9"/>
<circle cx="358.9" cy="460.5" r="5.3" fill="none" stroke="#231f20" stroke-width="0.9"/>
<circle cx="362.8" cy="443.8" r="5.3" fill="none" stroke="#231f20" stroke-width="0.9"/>
<circle cx="366.7" cy="427.3" r="5.3" fill="none" stroke="#231f20" stroke-width="0.9"/>
<circle cx="370.6" cy="411.2" r="5.3" fill="none" stroke="#231f20" stroke-width="0.9"/>
<circle cx="374.3" cy="395.6" r="5.3" fill="none" stroke="#231f20" stroke-width="0.9"/>
<circle cx="378" cy="380.3" r="5.3" fill="none" stroke="#231f20" stroke-width="0.9"/>
<circle cx="382" cy="365.3" r="5.3" fill="none" stroke="#231f20" stroke-width="0.9"/>
<circle cx="386.2" cy="350.9" r="5.3" fill="none" stroke="#231f20" stroke-width="0.9"/>
<text class="t" x="379.3" y="417.5">P</text>
<rect x="569.4" y="384.3" width="9.5" height="9.4" fill="#231f20"/>
<text class="t" x="581.5" y="393.6">In</text>
<text class="pl" x="3" y="563.7">d</text>
<text class="t" x="51.2" y="577.6">Spontaneous</text>
<text class="t" x="51.2" y="592.1">Hawking radiation</text>
<text class="t" x="51.2" y="649.4">BCL-stimulated</text>
<text class="t" x="51.2" y="664.1">Hawking radiation</text>
<line x1="314.1" y1="583.4" x2="250.7" y2="583.4" stroke="#231f20" stroke-width="1.5"/>
<use href="#ahB" transform="translate(247.7,583.4) scale(-1,1)" fill="#231f20"/>
<text class="t" x="282.7" y="576.4" text-anchor="middle">HR</text>
<line x1="352" y1="583.4" x2="415.5" y2="583.4" stroke="#231f20" stroke-width="0.9"/>
<use href="#ahS" transform="translate(418.5,583.4)" fill="#231f20"/>
<text class="t" x="381.5" y="576.4" text-anchor="middle">P</text>
<line x1="314.1" y1="657" x2="250.7" y2="657" stroke="#231f20" stroke-width="1.5"/>
<use href="#ahB" transform="translate(247.7,657) scale(-1,1)" fill="#231f20"/>
<text class="t" x="282.7" y="649.0" text-anchor="middle">HR</text>
<line x1="352" y1="657" x2="415.5" y2="657" stroke="#231f20" stroke-width="0.9"/>
<use href="#ahS" transform="translate(418.5,657)" fill="#231f20"/>
<text class="t" x="381.5" y="649.0" text-anchor="middle">P</text>
<line x1="617.6" y1="657" x2="554.5" y2="657" stroke="#231f20" stroke-width="1.5"/>
<use href="#ahB" transform="translate(551.5,657) scale(-1,1)" fill="#231f20"/>
<text class="t" x="579.2" y="648.7" text-anchor="middle">In</text>
</svg></body></html>
